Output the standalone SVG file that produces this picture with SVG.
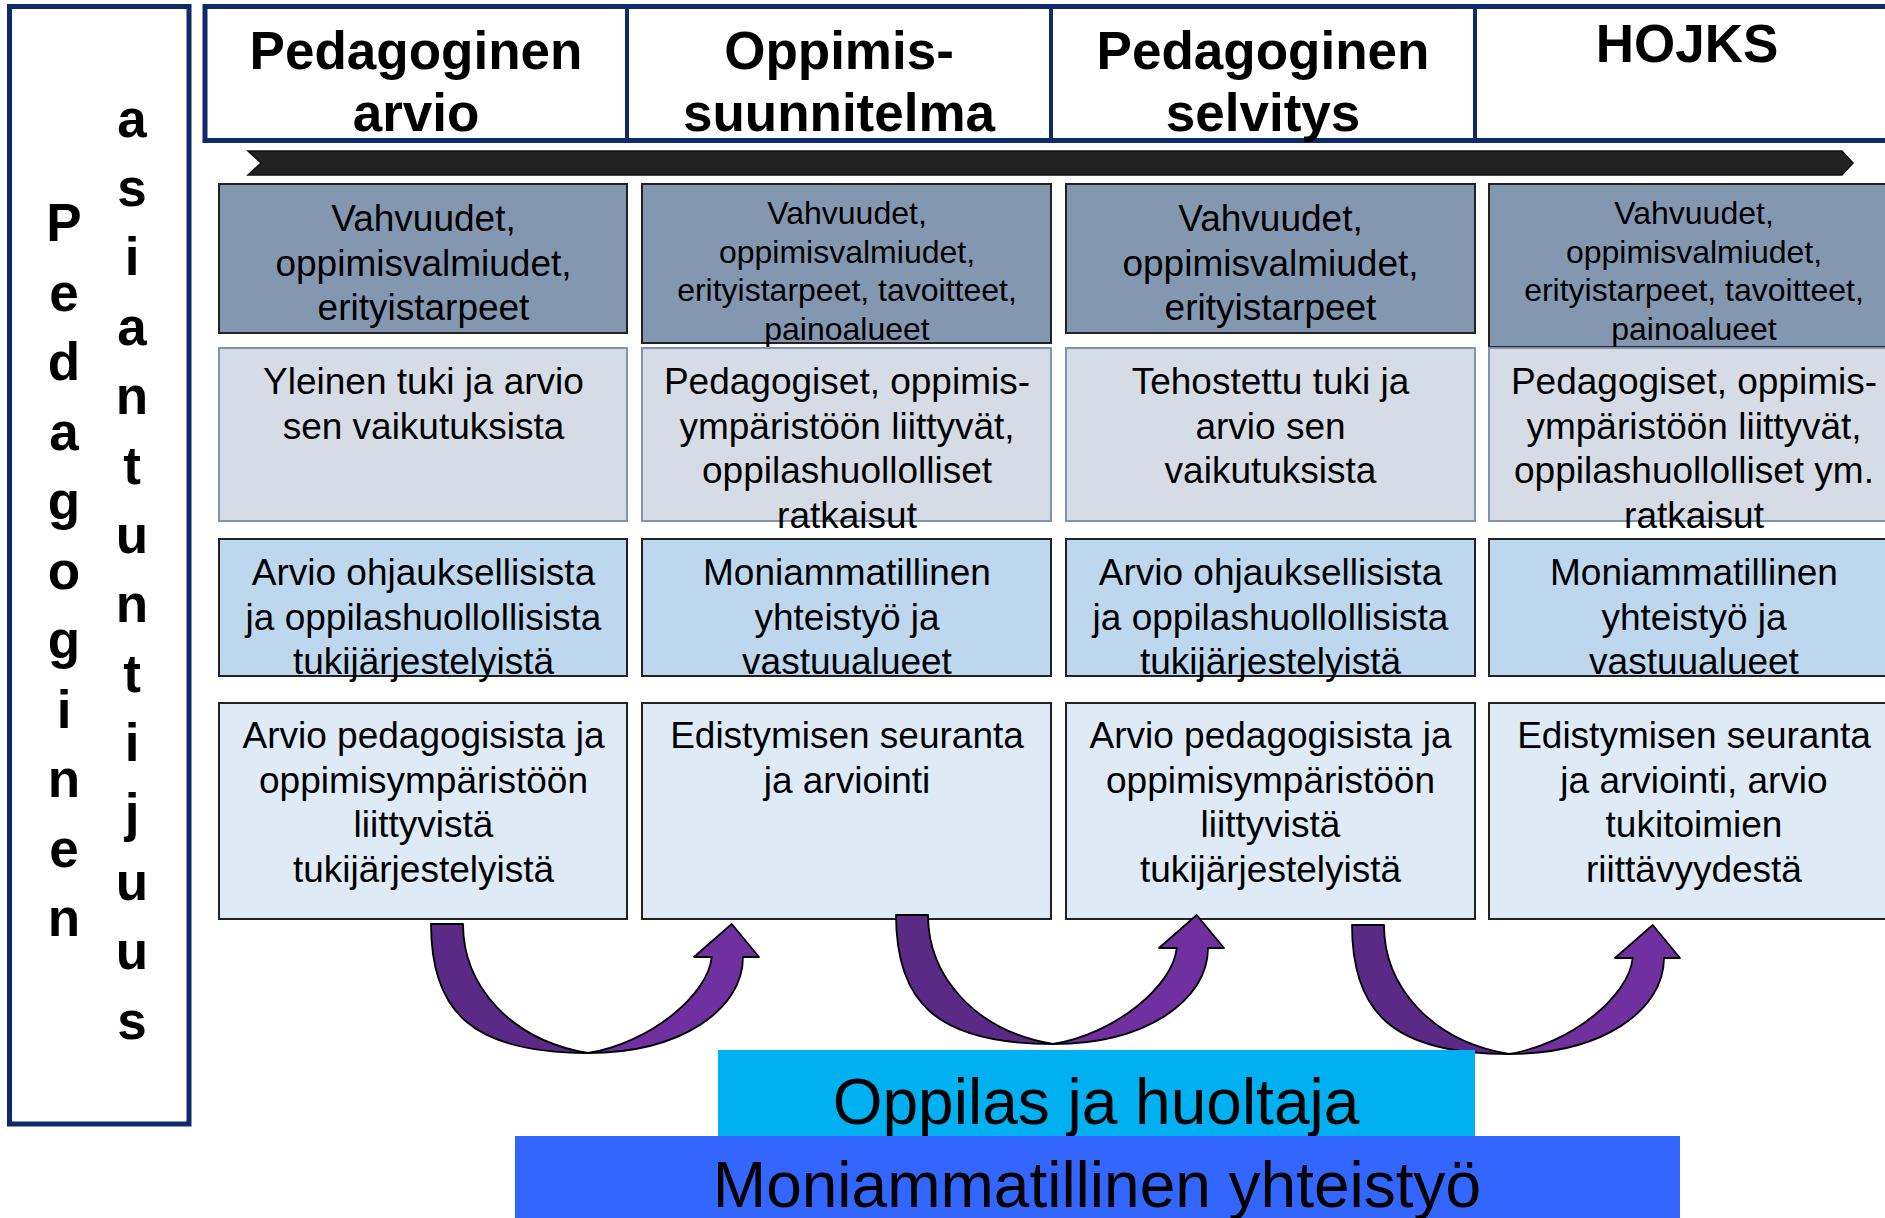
<svg xmlns="http://www.w3.org/2000/svg" xmlns:xlink="http://www.w3.org/1999/xlink" width="1885" height="1218" viewBox="0 0 1885 1218">
<style>
text{font-family:"Liberation Sans",Arial,sans-serif;fill:#000;text-anchor:middle}
.hdr{font-size:53px;font-weight:bold}
.t37{font-size:37px}
.t32{font-size:32px}
.big{font-size:64px}
.navy{fill:#fff;stroke:#0e2a6b;stroke-width:5}
.r1{fill:#8497b0;stroke:#222;stroke-width:2}
.r2{fill:#d6dce5;stroke:#8093b0;stroke-width:2}
.r3{fill:#bdd7ee;stroke:#222;stroke-width:2}
.r4{fill:#deebf7;stroke:#222;stroke-width:2}
.dk{fill:#5b2a86;stroke:#000;stroke-width:1.8;stroke-linejoin:round}
.lt{fill:#7030a0;stroke:#000;stroke-width:1.8;stroke-linejoin:round}
</style>
<defs>
<g id="uarrow">
<path class="dk" d="M0,0 L32,0 C32,61 79,116 157,129 C39,129 0,86 0,0 Z"/>
<path class="lt" d="M157,129 C249,129 312,86 312,33 L328,33 L300.7,0 L263,33 L280.7,33 C277,71 219,119 157,129 Z"/>
</g>
</defs>
<rect width="1885" height="1218" fill="#fff"/>

<g id="side">
<rect class="navy" x="9.5" y="6.5" width="179.5" height="1117.5"/>
<text class="hdr"><tspan x="64" y="241">P</tspan><tspan x="64" y="310.5">e</tspan><tspan x="64" y="380">d</tspan><tspan x="64" y="449.5">a</tspan><tspan x="64" y="519">g</tspan><tspan x="64" y="588.5">o</tspan><tspan x="64" y="658">g</tspan><tspan x="64" y="727.5">i</tspan><tspan x="64" y="797">n</tspan><tspan x="64" y="866.5">e</tspan><tspan x="64" y="936">n</tspan></text>
<text class="hdr"><tspan x="132" y="136.5">a</tspan><tspan x="132" y="205.9">s</tspan><tspan x="132" y="275.3">i</tspan><tspan x="132" y="344.7">a</tspan><tspan x="132" y="414.1">n</tspan><tspan x="132" y="483.5">t</tspan><tspan x="132" y="552.9">u</tspan><tspan x="132" y="622.3">n</tspan><tspan x="132" y="691.7">t</tspan><tspan x="132" y="761.1">i</tspan><tspan x="132" y="830.5">j</tspan><tspan x="132" y="899.9">u</tspan><tspan x="132" y="969.3">u</tspan><tspan x="132" y="1038.7">s</tspan></text>
</g>

<g id="header">
<rect class="navy" x="205" y="6.5" width="1700" height="134"/>
<line x1="627" y1="6.5" x2="627" y2="140.5" stroke="#0e2a6b" stroke-width="4"/>
<line x1="1051" y1="6.5" x2="1051" y2="140.5" stroke="#0e2a6b" stroke-width="4"/>
<line x1="1475" y1="6.5" x2="1475" y2="140.5" stroke="#0e2a6b" stroke-width="4"/>
</g>
<g id="h1"><text class="hdr"><tspan x="416" y="68.5">Pedagoginen</tspan><tspan x="416" y="130.5">arvio</tspan></text></g>
<g id="h2"><text class="hdr"><tspan x="839" y="68.5">Oppimis-</tspan><tspan x="839" y="130.5">suunnitelma</tspan></text></g>
<g id="h3"><text class="hdr"><tspan x="1263" y="68.5">Pedagoginen</tspan><tspan x="1263" y="130.5">selvitys</tspan></text></g>
<g id="h4"><text class="hdr" x="1687" y="62">HOJKS</text></g>

<g id="timeline">
<polygon points="248,151 1842,151 1853,163 1842,175 248,175 261,163" fill="#222" stroke="#111" stroke-width="1.5"/>
</g>

<g id="c1r1"><rect class="r1" x="219" y="184" width="408" height="149"/>
<text class="t37"><tspan x="423.5" y="231">Vahvuudet,</tspan><tspan x="423.5" y="275.5">oppimisvalmiudet,</tspan><tspan x="423.5" y="320">erityistarpeet</tspan></text></g>
<g id="c2r1"><rect class="r1" x="642" y="184" width="409" height="159"/>
<text class="t32"><tspan x="847" y="224">Vahvuudet,</tspan><tspan x="847" y="262.5">oppimisvalmiudet,</tspan><tspan x="847" y="301">erityistarpeet, tavoitteet,</tspan><tspan x="847" y="339.5">painoalueet</tspan></text></g>
<g id="c3r1"><rect class="r1" x="1066" y="184" width="409" height="149"/>
<text class="t37"><tspan x="1270.5" y="231">Vahvuudet,</tspan><tspan x="1270.5" y="275.5">oppimisvalmiudet,</tspan><tspan x="1270.5" y="320">erityistarpeet</tspan></text></g>
<g id="c4r1"><rect class="r1" x="1489" y="184" width="420" height="163"/>
<text class="t32"><tspan x="1694" y="224">Vahvuudet,</tspan><tspan x="1694" y="262.5">oppimisvalmiudet,</tspan><tspan x="1694" y="301">erityistarpeet, tavoitteet,</tspan><tspan x="1694" y="339.5">painoalueet</tspan></text></g>

<g id="c1r2"><rect class="r2" x="219" y="348" width="408" height="173"/>
<text class="t37"><tspan x="423.5" y="394">Yleinen tuki ja arvio</tspan><tspan x="423.5" y="438.5">sen vaikutuksista</tspan></text></g>
<g id="c2r2"><rect class="r2" x="642" y="348" width="409" height="173"/>
<text class="t37"><tspan x="847" y="394">Pedagogiset, oppimis-</tspan><tspan x="847" y="438.5">ympäristöön liittyvät,</tspan><tspan x="847" y="483">oppilashuollolliset</tspan><tspan x="847" y="527.5">ratkaisut</tspan></text></g>
<g id="c3r2"><rect class="r2" x="1066" y="348" width="409" height="173"/>
<text class="t37"><tspan x="1270.5" y="394">Tehostettu tuki ja</tspan><tspan x="1270.5" y="438.5">arvio sen</tspan><tspan x="1270.5" y="483">vaikutuksista</tspan></text></g>
<g id="c4r2"><rect class="r2" x="1489" y="348" width="420" height="173"/>
<text class="t37"><tspan x="1694" y="394">Pedagogiset, oppimis-</tspan><tspan x="1694" y="438.5">ympäristöön liittyvät,</tspan><tspan x="1694" y="483">oppilashuollolliset ym.</tspan><tspan x="1694" y="527.5">ratkaisut</tspan></text></g>

<g id="c1r3"><rect class="r3" x="219" y="539" width="408" height="137"/>
<text class="t37"><tspan x="423.5" y="585">Arvio ohjauksellisista</tspan><tspan x="423.5" y="629.5">ja oppilashuollollisista</tspan><tspan x="423.5" y="674">tukijärjestelyistä</tspan></text></g>
<g id="c2r3"><rect class="r3" x="642" y="539" width="409" height="137"/>
<text class="t37"><tspan x="847" y="585">Moniammatillinen</tspan><tspan x="847" y="629.5">yhteistyö ja</tspan><tspan x="847" y="674">vastuualueet</tspan></text></g>
<g id="c3r3"><rect class="r3" x="1066" y="539" width="409" height="137"/>
<text class="t37"><tspan x="1270.5" y="585">Arvio ohjauksellisista</tspan><tspan x="1270.5" y="629.5">ja oppilashuollollisista</tspan><tspan x="1270.5" y="674">tukijärjestelyistä</tspan></text></g>
<g id="c4r3"><rect class="r3" x="1489" y="539" width="420" height="137"/>
<text class="t37"><tspan x="1694" y="585">Moniammatillinen</tspan><tspan x="1694" y="629.5">yhteistyö ja</tspan><tspan x="1694" y="674">vastuualueet</tspan></text></g>

<g id="c1r4"><rect class="r4" x="219" y="703" width="408" height="216"/>
<text class="t37"><tspan x="423.5" y="748">Arvio pedagogisista ja</tspan><tspan x="423.5" y="792.5">oppimisympäristöön</tspan><tspan x="423.5" y="837">liittyvistä</tspan><tspan x="423.5" y="881.5">tukijärjestelyistä</tspan></text></g>
<g id="c2r4"><rect class="r4" x="642" y="703" width="409" height="216"/>
<text class="t37"><tspan x="847" y="748">Edistymisen seuranta</tspan><tspan x="847" y="792.5">ja arviointi</tspan></text></g>
<g id="c3r4"><rect class="r4" x="1066" y="703" width="409" height="216"/>
<text class="t37"><tspan x="1270.5" y="748">Arvio pedagogisista ja</tspan><tspan x="1270.5" y="792.5">oppimisympäristöön</tspan><tspan x="1270.5" y="837">liittyvistä</tspan><tspan x="1270.5" y="881.5">tukijärjestelyistä</tspan></text></g>
<g id="c4r4"><rect class="r4" x="1489" y="703" width="420" height="216"/>
<text class="t37"><tspan x="1694" y="748">Edistymisen seuranta</tspan><tspan x="1694" y="792.5">ja arviointi, arvio</tspan><tspan x="1694" y="837">tukitoimien</tspan><tspan x="1694" y="881.5">riittävyydestä</tspan></text></g>

<g id="connectors">
<use xlink:href="#uarrow" transform="translate(431,924)"/>
<use xlink:href="#uarrow" transform="translate(896,915)"/>
<use xlink:href="#uarrow" transform="translate(1352,925)"/>
</g>

<g id="oppilas"><rect x="718" y="1050" width="757" height="88" fill="#00b0f0"/>
<text class="big" x="1096" y="1124">Oppilas ja huoltaja</text></g>
<g id="moniammatillinen"><rect x="515" y="1136" width="1165" height="90" fill="#3366ff"/>
<text class="big" x="1097" y="1207">Moniammatillinen yhteistyö</text></g>
</svg>
